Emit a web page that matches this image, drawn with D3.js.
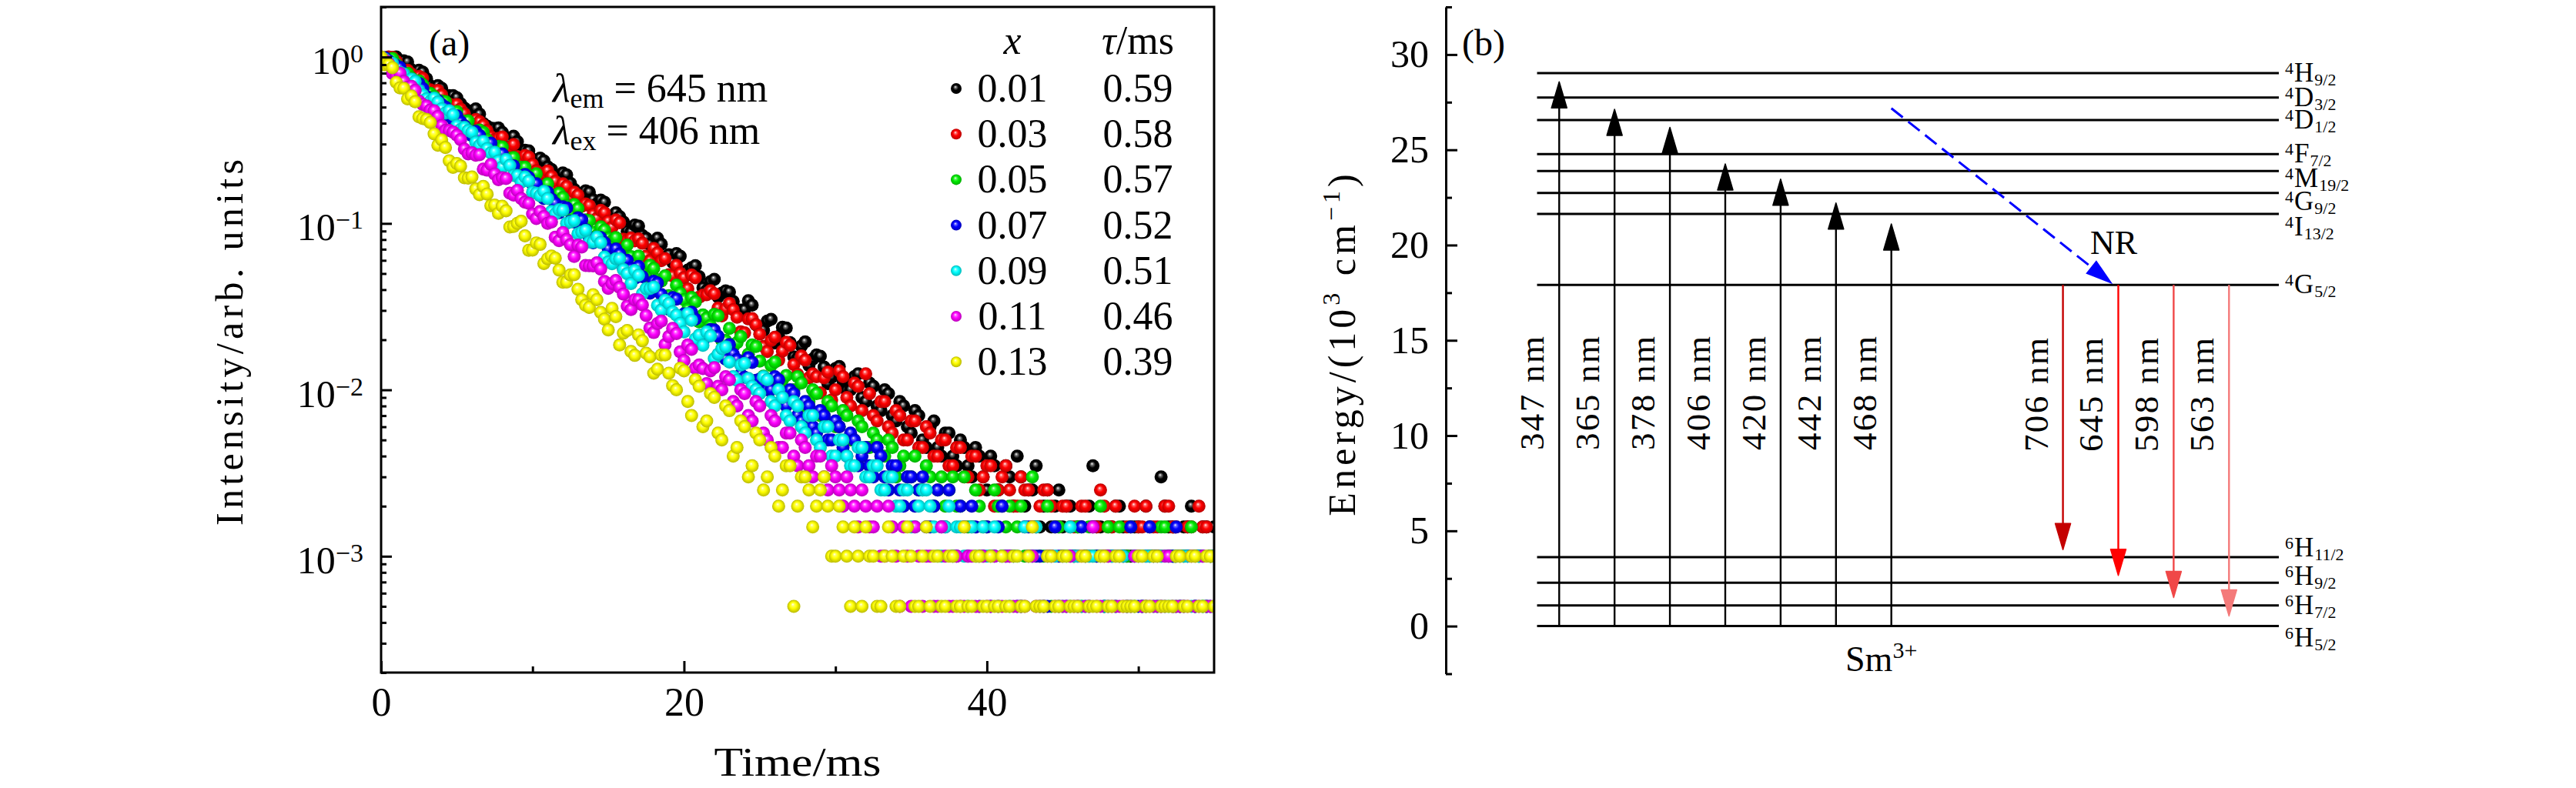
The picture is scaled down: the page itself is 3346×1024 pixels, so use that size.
<!DOCTYPE html>
<html>
<head>
<meta charset="utf-8">
<script src="https://cdn.jsdelivr.net/npm/d3@7"></script>
<style>
  body { margin: 0; background: #fff; }
  text { fill: #000; }
</style>
</head>
<body>
<script>
// ---------- panel (a): decay curves ----------
// readings on the 0.5 ms grid
const times = [0,0.5,1,1.5,2,2.5,3,3.5,4,4.5,5,5.5,6,6.5,7,7.5,8,8.5,9,9.5,10,10.5,11,11.5,12,12.5,13,13.5,14,14.5,15,15.5,16,16.5,17,17.5,18,18.5,19,19.5,20,20.5,21,21.5,22,22.5,23,23.5,24,24.5,25,25.5,26,26.5,27,27.5,28,28.5,29,29.5,30,30.5,31,31.5,32,32.5,33,33.5,34,34.5,35,35.5,36,36.5,37,37.5,38,38.5,39,39.5,40,40.5,41,41.5,42,42.5,43,43.5,44,44.5,45,45.5,46,46.5,47,47.5,48,48.5,49,49.5,50,50.5,51,51.5,52,52.5,53,53.5,54,54.5,55];

const decay001 = [null,null,1.00,0.948,0.839,0.834,0.741,0.653,0.649,0.587,0.570,0.493,0.468,0.454,0.384,0.372,0.353,0.313,0.310,0.275,0.243,0.247,0.219,0.194,0.201,0.174,0.151,0.157,0.139,0.138,0.111,0.116,0.102,0.0885,0.0964,0.0815,0.0689,0.075,0.0649,0.0659,0.0508,0.0541,0.0479,0.0395,0.0461,0.0381,0.0387,0.0292,0.0303,0.0323,0.0232,0.0259,0.0191,0.0238,0.0192,0.0155,0.0194,0.0153,0.0159,0.0109,0.0134,0.0113,0.0100,0.0125,0.0085,0.0105,0.0075,0.0095,0.0065,0.0080,0.0055,0.0070,0.0045,0.0065,0.0040,0.0055,0.0035,0.0045,0.0030,0.0040,0.0025,0.0035,0.0020,0.0030,0.0040,0.0020,0.0025,0.0015,0.0025,0.0020,0.0015,0.0020,0.0015,0.0010,0.0035,0.0015,0.0010,0.0020,0.0015,0.0010,0.0015,0.0020,0.0010,0.0030,0.0015,0.0010,0.0015,0.0020,0.0010,0.0015,0.0015];
const decay003 = [null,1.00,0.946,0.836,0.791,0.766,0.646,0.625,0.592,0.522,0.518,0.457,0.404,0.409,0.361,0.319,0.331,0.286,0.252,0.256,0.226,0.195,0.207,0.179,0.173,0.143,0.148,0.131,0.113,0.120,0.103,0.105,0.0805,0.0817,0.0809,0.0637,0.0708,0.0597,0.0492,0.056,0.0472,0.049,0.036,0.0373,0.0378,0.0278,0.0331,0.0273,0.022,0.0268,0.0216,0.017,0.0207,0.0171,0.0185,0.0124,0.0151,0.0125,0.0096,0.0128,0.010,0.012,0.008,0.0105,0.0125,0.007,0.0085,0.006,0.0075,0.005,0.0065,0.0045,0.006,0.004,0.005,0.0035,0.0045,0.003,0.004,0.0025,0.0035,0.002,0.003,0.0025,0.002,0.0025,0.0015,0.002,0.0025,0.0015,0.002,0.0015,0.001,0.002,0.0015,0.0025,0.0015,0.002,0.001,0.0015,0.0015,0.002,0.0015,0.001,0.002,0.0015,0.001,0.0015,0.002,0.0015,0.001];
const decay005 = [null,0.966,0.908,0.796,0.748,0.719,0.603,0.579,0.544,0.467,0.470,0.412,0.361,0.364,0.319,0.280,0.288,0.247,0.212,0.218,0.191,0.164,0.173,0.148,0.143,0.117,0.123,0.105,0.0883,0.0953,0.0817,0.0822,0.0628,0.0632,0.0637,0.0475,0.0537,0.045,0.0368,0.0426,0.0348,0.0359,0.0256,0.027,0.0284,0.0198,0.0234,0.0192,0.015,0.0186,0.0149,0.0116,0.0147,0.0115,0.0095,0.012,0.008,0.010,0.007,0.0085,0.006,0.0075,0.005,0.0065,0.0045,0.0055,0.004,0.005,0.003,0.004,0.003,0.0025,0.0035,0.002,0.003,0.0025,0.002,0.003,0.0015,0.002,0.0015,0.0025,0.001,0.002,0.0015,0.001,0.003,0.001,0.002,0.0015,0.001,0.0005,0.0015,0.001,0.001,0.002,0.0015,0.0005,0.001,0.0015,0.001,0.0005,0.001,0.0015,0.001,0.0005,0.001,0.0015,0.001,0.0005,0.001];
const decay007 = [null,0.948,0.887,0.774,0.724,0.693,0.578,0.553,0.518,0.442,0.443,0.386,0.337,0.338,0.295,0.258,0.262,0.225,0.192,0.197,0.172,0.147,0.154,0.132,0.126,0.103,0.108,0.0918,0.0766,0.0822,0.0701,0.0703,0.0535,0.0536,0.0552,0.0399,0.0449,0.0374,0.0305,0.0351,0.0286,0.0293,0.0208,0.0218,0.0229,0.0159,0.0187,0.0152,0.0119,0.0146,0.0116,0.010,0.012,0.0085,0.010,0.007,0.0085,0.006,0.0075,0.005,0.0065,0.0045,0.0055,0.0035,0.0045,0.003,0.004,0.0025,0.0035,0.002,0.003,0.0025,0.0015,0.002,0.0015,0.0025,0.001,0.0015,0.002,0.001,0.0015,0.001,0.002,0.001,0.0005,0.0015,0.001,0.001,0.0005,0.0015,0.001,0.001,0.0005,0.001,0.0015,0.001,0.0005,0.001,0.001,0.0015,0.0005,0.001,0.001,0.0005,0.001,0.0015,0.0005,0.001,0.001,0.0005,0.001];
const decay009 = [null,0.929,0.809,0.791,0.738,0.628,0.560,0.566,0.488,0.476,0.387,0.378,0.353,0.294,0.281,0.268,0.218,0.223,0.194,0.190,0.154,0.147,0.141,0.114,0.120,0.102,0.0867,0.0908,0.0773,0.0768,0.0586,0.0614,0.0528,0.0435,0.0488,0.0406,0.0415,0.0301,0.033,0.0281,0.0223,0.0262,0.0213,0.0223,0.0154,0.0177,0.0147,0.0114,0.0144,0.0105,0.0095,0.0115,0.008,0.009,0.0065,0.008,0.0055,0.007,0.0045,0.006,0.004,0.005,0.0035,0.0045,0.003,0.0035,0.0025,0.003,0.002,0.0025,0.0015,0.002,0.0025,0.0015,0.001,0.002,0.0015,0.001,0.0015,0.0005,0.001,0.0015,0.001,0.0005,0.001,0.0015,0.001,0.0005,0.001,0.001,0.0005,0.0015,0.001,0.0005,0.001,0.001,null,0.0005,0.001,0.0005,0.001,0.001,0.0005,0.001,0.0005,0.001,0.001,0.0005,0.001,0.0005,0.001];
const decay011 = [0.98,0.914,0.780,0.713,0.667,0.543,0.508,0.475,0.387,0.362,0.339,0.280,0.266,0.259,0.209,0.198,0.188,0.152,0.158,0.134,0.114,0.118,0.100,0.0827,0.0881,0.0745,0.0741,0.0559,0.0556,0.0532,0.0407,0.0454,0.0376,0.0304,0.0347,0.028,0.0221,0.0259,0.0209,0.0218,0.015,0.0175,0.0141,0.0109,0.0136,0.010,0.0115,0.008,0.0095,0.0065,0.008,0.005,0.0065,0.0045,0.0055,0.0035,0.0045,0.003,0.004,0.0025,0.003,0.002,0.0025,0.0015,0.002,0.0015,0.001,0.002,0.001,0.0015,0.0005,0.001,0.001,0.0005,0.0015,0.0005,0.001,0.0005,0.001,0.0005,0.0005,0.001,0.0005,0.001,0.0005,0.0005,0.001,0.0005,0.001,0.0005,0.0005,0.001,0.0005,0.0005,0.0015,0.0005,0.001,0.0005,0.0005,0.0005,0.001,0.0005,0.0005,0.0005,0.001,0.0005,0.0005,0.001,0.0005,0.0005,0.0005];
const decay013 = [1.00,0.899,0.705,0.649,0.583,0.437,0.421,0.345,0.318,0.238,0.229,0.188,0.190,0.149,0.150,0.129,0.127,0.0951,0.100,0.0843,0.0692,0.0748,0.0614,0.0619,0.0443,0.049,0.0402,0.0322,0.0373,0.0292,0.0229,0.0275,0.0219,0.017,0.0214,0.0166,0.0126,0.0162,0.0126,0.010,0.013,0.007,0.0105,0.0065,0.009,0.005,0.0075,0.0045,0.006,0.0035,0.005,0.003,0.004,0.0025,0.0035,0.002,0.003,0.0015,0.0025,0.002,0.001,0.0015,0.0005,0.001,0.0015,0.001,0.0005,0.0015,0.0005,0.001,0.001,0.0005,0.0015,0.001,0.0005,0.001,0.0005,0.0015,0.0005,0.001,0.0005,0.0005,0.001,0.0005,0.001,0.0005,0.0015,0.0005,0.001,0.0005,0.001,0.0005,0.0005,0.001,0.0005,0.001,0.0005,0.001,0.0005,0.0005,0.001,0.0005,0.001,0.0005,0.0005,0.001,0.0005,0.001,0.0005,0.001,0.0005];

// readings between the grid points (0.25, 0.75, ... ms)
const timesMid = [0.25,0.75,1.25,1.75,2.25,2.75,3.25,3.75,4.25,4.75,5.25,5.75,6.25,6.75,7.25,7.75,8.25,8.75,9.25,9.75,10.25,10.75,11.25,11.75,12.25,12.75,13.25,13.75,14.25,14.75,15.25,15.75,16.25,16.75,17.25,17.75,18.25,18.75,19.25,19.75,20.25,20.75,21.25,21.75,22.25,22.75,23.25,23.75,24.25,24.75,25.25,25.75,26.25,26.75,27.25,27.75,28.25,28.75,29.25,29.75,30.25,30.75,31.25,31.75,32.25,32.75,33.25,33.75,34.25,34.75,35.25,35.75,36.25,36.75,37.25,37.75,38.25,38.75,39.25,39.75,40.25,40.75,41.25,41.75,42.25,42.75,43.25,43.75,44.25,44.75,45.25,45.75,46.25,46.75,47.25,47.75,48.25,48.75,49.25,49.75,50.25,50.75,51.25,51.75,52.25,52.75,53.25,53.75,54.25,54.75];

const mid001 = [null,null,0.930,0.934,0.818,0.812,0.671,0.674,0.583,0.586,0.524,0.475,0.488,0.398,0.374,0.375,0.328,0.334,0.263,0.273,0.230,0.238,0.211,0.189,0.196,0.160,0.148,0.154,0.131,0.134,0.106,0.110,0.0898,0.0978,0.0846,0.0749,0.0815,0.0629,0.0583,0.0635,0.0524,0.0558,0.0411,0.0447,0.0361,0.0393,0.034,0.0301,0.0343,0.0246,0.0228,0.0265,0.0209,0.0235,0.0158,0.0183,0.014,0.0162,0.0137,0.0119,0.0138,0.0099,0.012,0.009,0.011,0.008,0.010,0.007,0.0085,0.006,0.0075,0.005,0.006,0.0045,0.0055,0.004,0.005,0.0035,0.0045,0.003,0.004,0.0025,0.0035,0.002,0.003,0.0025,0.0035,0.002,0.0015,0.0025,0.002,0.001,0.0015,0.002,0.0015,0.001,0.0015,0.002,0.001,0.0015,0.0005,0.0015,0.001,0.002,0.0015,0.001,0.0015,0.0005,0.0015,0.001];
const mid003 = [null,0.995,0.849,0.832,0.718,0.745,0.635,0.630,0.537,0.514,0.486,0.415,0.421,0.389,0.332,0.325,0.274,0.298,0.246,0.251,0.207,0.201,0.192,0.158,0.167,0.154,0.127,0.128,0.107,0.116,0.0948,0.101,0.0793,0.0785,0.076,0.0598,0.0665,0.0615,0.0484,0.0502,0.0405,0.0471,0.0371,0.0394,0.031,0.0307,0.0303,0.0223,0.0267,0.0247,0.0182,0.0198,0.0151,0.0193,0.0142,0.016,0.0118,0.012,0.0118,0.0087,0.013,0.009,0.011,0.0075,0.0095,0.0065,0.0085,0.0055,0.007,0.005,0.0065,0.0045,0.0055,0.004,0.005,0.0035,0.0045,0.003,0.004,0.003,0.0035,0.0025,0.0035,0.002,0.003,0.0025,0.0015,0.0025,0.002,0.0015,0.002,0.0015,0.002,0.001,0.0015,0.002,0.0015,0.001,0.0015,0.002,0.0015,0.001,0.0015,0.002,0.0015,0.001,0.0015,0.001,0.0015,0.001];
const mid005 = [0.99,0.981,0.803,0.799,0.685,0.682,0.605,0.543,0.540,0.453,0.416,0.414,0.359,0.353,0.289,0.290,0.242,0.249,0.218,0.194,0.199,0.161,0.147,0.152,0.128,0.130,0.102,0.104,0.0847,0.0913,0.0783,0.0687,0.0741,0.0566,0.0519,0.0561,0.0459,0.0484,0.0353,0.0381,0.0305,0.0338,0.0282,0.0243,0.0279,0.0198,0.0182,0.0209,0.0164,0.0182,0.0121,0.014,0.0106,0.0122,0.010,0.011,0.0085,0.0095,0.007,0.008,0.006,0.007,0.005,0.006,0.0045,0.005,0.004,0.0045,0.0035,0.003,0.004,0.0025,0.003,0.0025,0.002,0.003,0.002,0.0015,0.0025,0.0015,0.001,0.002,0.0015,0.001,0.002,0.001,0.0015,0.001,0.0005,0.0015,0.001,0.001,0.0005,0.0015,0.001,0.0005,0.001,0.0015,0.001,0.0005,0.001,0.001,0.0005,0.0015,0.001,0.0005,0.001,0.001,0.0005,0.001];
const mid007 = [0.99,0.885,0.867,0.731,0.692,0.647,0.546,0.547,0.500,0.422,0.408,0.348,0.357,0.301,0.304,0.245,0.236,0.222,0.182,0.189,0.173,0.141,0.140,0.116,0.124,0.102,0.105,0.0818,0.0802,0.0768,0.0597,0.0656,0.06,0.0467,0.0479,0.0381,0.0439,0.0341,0.0358,0.0271,0.0273,0.0266,0.0194,0.023,0.021,0.0153,0.0164,0.0124,0.0156,0.0114,0.011,0.010,0.0115,0.008,0.0095,0.0065,0.008,0.0055,0.007,0.005,0.006,0.004,0.005,0.004,0.0035,0.0045,0.003,0.0035,0.0025,0.003,0.002,0.003,0.0015,0.0025,0.0015,0.001,0.002,0.001,0.0015,0.001,0.0005,0.0015,0.001,0.001,0.0005,0.0015,0.001,0.0005,0.001,0.001,0.0005,0.001,0.0015,0.0005,0.001,0.0005,0.001,0.001,0.0005,0.001,0.0005,0.0015,0.001,0.0005,0.001,0.0005,0.001,0.0005,0.001,0.0005];
const mid009 = [0.97,0.918,0.809,0.721,0.713,0.593,0.541,0.535,0.460,0.450,0.366,0.361,0.308,0.311,0.265,0.237,0.242,0.194,0.177,0.180,0.152,0.156,0.118,0.121,0.100,0.104,0.0887,0.0773,0.0828,0.0628,0.0573,0.0614,0.0499,0.0522,0.0378,0.0406,0.0322,0.0345,0.0294,0.0251,0.0287,0.0202,0.0185,0.0211,0.0164,0.0181,0.012,0.0141,0.0117,0.010,0.012,0.0085,0.010,0.007,0.0085,0.006,0.007,0.005,0.006,0.004,0.005,0.004,0.0035,0.0045,0.003,0.0035,0.0025,0.003,0.002,0.0025,0.0015,0.0025,0.002,0.001,0.0015,0.001,0.0015,0.0005,0.001,0.0015,0.001,0.0005,0.001,0.001,0.0005,0.001,0.0015,0.0005,0.001,0.0005,0.001,0.001,0.0005,0.001,null,0.0005,0.001,0.001,0.0005,0.001,0.0005,0.001,0.0005,0.001,0.0005,0.001,0.001,0.0005,0.0005,0.001];
const mid011 = [0.956,0.797,0.799,0.658,0.630,0.519,0.480,0.439,0.362,0.354,0.319,0.262,0.257,0.212,0.226,0.183,0.186,0.148,0.141,0.132,0.107,0.110,0.102,0.0787,0.0801,0.0633,0.0722,0.0557,0.058,0.0448,0.0435,0.0413,0.0319,0.0348,0.0324,0.0235,0.025,0.0187,0.0234,0.0169,0.0186,0.0135,0.0134,0.013,0.0105,0.012,0.0085,0.010,0.007,0.0085,0.0055,0.007,0.0045,0.0055,0.004,0.005,0.0035,0.004,0.003,0.0035,0.0025,0.003,0.002,0.0025,0.0015,0.002,0.001,0.0015,0.0005,0.001,0.0015,0.0005,0.001,0.0005,0.001,0.0005,0.0005,0.001,0.0005,0.001,0.0005,0.0005,0.001,0.0005,0.0005,0.001,0.0005,0.0005,0.001,0.0005,0.0005,0.0005,0.001,0.0005,0.0005,0.001,0.0005,0.0005,0.0005,0.001,0.0005,0.0005,0.0005,0.001,0.0005,0.0005,0.0005,0.0005,0.001,0.0005];
const mid013 = [0.897,0.863,0.652,0.560,0.538,0.427,0.404,0.295,0.286,0.217,0.221,0.187,0.161,0.167,0.128,0.115,0.119,0.0959,0.103,0.0689,0.0764,0.0574,0.0637,0.0524,0.0444,0.0492,0.0348,0.0313,0.0348,0.0266,0.0309,0.0186,0.0227,0.0161,0.0197,0.0158,0.0133,0.0162,0.0106,0.0135,0.0085,0.0115,0.006,0.0095,0.0055,0.008,0.004,0.0065,0.003,0.0055,0.0025,0.0045,0.002,0.0035,0.0005,0.003,0.0025,0.002,0.003,0.001,0.002,0.001,0.0015,0.0005,0.001,0.0005,0.001,0.001,0.0005,0.0015,0.0005,0.001,0.0005,0.001,0.0005,0.001,0.0005,0.0005,0.001,0.0005,0.001,0.0005,0.0005,0.001,0.0005,0.001,0.0005,0.0005,0.001,0.0005,0.001,0.0005,0.001,0.0005,0.0005,0.001,0.0005,0.001,0.0005,0.0005,0.001,0.0005,0.001,0.0005,0.0005,0.001,0.0005,0.001,0.0005,0.001];

const seriesData = [decay001, decay003, decay005, decay007, decay009, decay011, decay013];
const seriesMid = [mid001, mid003, mid005, mid007, mid009, mid011, mid013];
const sampleX = ["0.01", "0.03", "0.05", "0.07", "0.09", "0.11", "0.13"];
const lifetimes = ["0.59", "0.58", "0.57", "0.52", "0.51", "0.46", "0.39"];
const xTicksA = [0, 20, 40];
const yDecades = [1, 0.1, 0.01, 0.001];
const yDecadeExp = ["0", "\u22121", "\u22122", "\u22123"];

// ---------- panel (b): Sm3+ energy levels (10^3 cm^-1) ----------
const levelNames = ["4H9/2", "4D3/2", "4D1/2", "4F7/2", "4M19/2", "4G9/2", "4I13/2", "4G5/2", "6H11/2", "6H9/2", "6H7/2", "6H5/2"];
const levelEnergy = [29.03, 27.74, 26.56, 24.78, 23.89, 22.74, 21.63, 17.91, 3.62, 2.28, 1.08, 0];
const excitation = ["347 nm", "365 nm", "378 nm", "406 nm", "420 nm", "442 nm", "468 nm"];
const excitationTop = [28.57, 27.13, 26.18, 24.26, 23.46, 22.21, 21.11];
const emission = ["706 nm", "645 nm", "598 nm", "563 nm"];
const emissionEnd = [4.01, 2.66, 1.50, 0.53];
const emissionStart = 17.91;
const nrFrom = 27.18, nrTo = 17.95;
const yTicksB = [0, 5, 10, 15, 20, 25, 30];

// ---------- drawing ----------
const FONT = "'Liberation Serif', 'DejaVu Serif', serif";
const colors = ["#000000", "#ff0000", "#00ee00", "#0000ff", "#00ffff", "#ff00ff", "#ffff00"];
const emisColors = ["#c40000", "#ff0000", "#f04848", "#f47a7a"];

const svg = d3.select("body").append("svg")
    .attr("width", 3346)
    .attr("height", 1024)
    .style("display", "block")
    .attr("font-family", FONT);

svg.append("rect").attr("width", 3346).attr("height", 1024).attr("fill", "#fff");

const defs = svg.append("defs");
colors.forEach((c, i) => {
    const g = defs.append("radialGradient")
        .attr("id", "ball" + i)
        .attr("cx", "50%").attr("cy", "50%").attr("r", "50%")
        .attr("fx", "42%").attr("fy", "34%");
    g.append("stop").attr("offset", "0%").attr("stop-color", "#ffffff");
    g.append("stop").attr("offset", "20%").attr("stop-color", d3.interpolateRgb(c, "#fff")(i == 0 ? 0.45 : 0.4));
    g.append("stop").attr("offset", "50%").attr("stop-color", c);
    g.append("stop").attr("offset", "100%").attr("stop-color", i == 0 ? "#000" : d3.color(c).darker(0.9));
});

// panel (a)
const xA = d3.scaleLinear().domain([0, 55]).range([495, 1577]);
const yA = d3.scaleLog().domain([2e-4, 2]).range([874, 9]);

defs.append("clipPath").attr("id", "clipA")
    .append("rect").attr("x", 495).attr("y", 9).attr("width", 1082).attr("height", 865);

const pts = svg.append("g").attr("clip-path", "url(#clipA)");
seriesData.forEach((vals, i) => {
    const data = times.map((t, k) => [t, vals[k]])
        .concat(timesMid.map((t, k) => [t, seriesMid[i][k]]))
        .filter(d => d[1] != null)
        .sort((a, b) => a[0] - b[0]);
    pts.append("g").selectAll("circle")
        .data(data)
        .join("circle")
        .attr("cx", d => xA(d[0]))
        .attr("cy", d => yA(d[1]))
        .attr("r", 8.5)
        .attr("fill", `url(#ball${i})`);
});

// y ticks (inward)
const minorY = yA.ticks().filter(v => !yDecades.some(d => Math.abs(d - v) < 1e-12));
svg.append("g").attr("transform", "translate(495,0)")
    .call(d3.axisLeft(yA).tickValues(yDecades).tickSize(-14).tickSizeOuter(0).tickFormat(""))
    .call(g => g.select(".domain").remove())
    .call(g => g.selectAll("line").attr("stroke-width", 3));
svg.append("g").attr("transform", "translate(495,0)")
    .call(d3.axisLeft(yA).tickValues(minorY).tickSize(-7).tickSizeOuter(0).tickFormat(""))
    .call(g => g.select(".domain").remove())
    .call(g => g.selectAll("line").attr("stroke-width", 3));

yDecades.forEach((v, i) => {
    const t = svg.append("text")
        .attr("x", 472).attr("y", yA(v) + 22)
        .attr("text-anchor", "end");
    t.append("tspan").attr("font-size", 50).text("10");
    t.append("tspan").attr("font-size", 34).attr("dy", -15).text(yDecadeExp[i]);
});

// x ticks (inward)
svg.append("g").attr("transform", "translate(0,874)")
    .call(d3.axisBottom(xA).tickValues(xTicksA).tickSize(-15).tickSizeOuter(0).tickPadding(19).tickFormat(d3.format("d")))
    .call(g => g.select(".domain").remove())
    .call(g => g.selectAll("line").attr("stroke-width", 3))
    .call(g => g.selectAll("text").attr("font-size", 52).attr("font-family", FONT).attr("fill", "#000"));
svg.append("g").attr("transform", "translate(0,874)")
    .call(d3.axisBottom(xA).tickValues([10, 30, 50]).tickSize(-8).tickSizeOuter(0).tickFormat(""))
    .call(g => g.select(".domain").remove())
    .call(g => g.selectAll("line").attr("stroke-width", 3));

svg.append("rect")
    .attr("x", 495).attr("y", 9).attr("width", 1082).attr("height", 865)
    .attr("fill", "none").attr("stroke", "#000").attr("stroke-width", 3);

svg.append("text").attr("x", 1036).attr("y", 1008)
    .attr("text-anchor", "middle").attr("font-size", 52)
    .attr("textLength", 217).attr("lengthAdjust", "spacingAndGlyphs")
    .text("Time/ms");

svg.append("text")
    .attr("transform", "translate(315,445) rotate(-90)")
    .attr("text-anchor", "middle").attr("font-size", 50)
    .attr("textLength", 476).attr("lengthAdjust", "spacing")
    .text("Intensity/arb. units");

svg.append("text").attr("x", 557).attr("y", 72).attr("font-size", 48).text("(a)");

// lambda annotations
[["em", "645"], ["ex", "406"]].forEach((d, i) => {
    const t = svg.append("text").attr("x", 718).attr("y", 132 + i * 55).attr("font-size", 52);
    t.append("tspan").attr("font-style", "italic").text("\u03bb");
    t.append("tspan").attr("font-size", 36).attr("dy", 8).text(d[0]);
    t.append("tspan").attr("dy", -8).text(" = " + d[1] + " nm");
});

// legend
const legY = i => 115 + i * 59.2;
svg.append("text").attr("x", 1315).attr("y", 70).attr("text-anchor", "middle")
    .attr("font-size", 52).attr("font-style", "italic").text("x");
const th = svg.append("text").attr("x", 1478).attr("y", 70).attr("text-anchor", "middle").attr("font-size", 52);
th.append("tspan").attr("font-style", "italic").text("\u03c4");
th.append("tspan").text("/ms");

sampleX.forEach((s, i) => {
    svg.append("circle").attr("cx", 1242).attr("cy", legY(i)).attr("r", 7).attr("fill", `url(#ball${i})`);
    svg.append("text").attr("x", 1315).attr("y", legY(i) + 17).attr("text-anchor", "middle")
        .attr("font-size", 52).text(s);
    svg.append("text").attr("x", 1478).attr("y", legY(i) + 17).attr("text-anchor", "middle")
        .attr("font-size", 52).text(lifetimes[i]);
});

// panel (b)
const xB = d3.scaleLinear().domain([-0.4, 13]).range([1996.5, 2960]);
const yB = d3.scaleLinear().domain([-2.5, 32.5]).range([875.5, 9]);
const upSlots = [0, 1, 2, 3, 4, 5, 6];
const downSlots = [9.1, 10.1, 11.1, 12.1];
const labelShift = [0, 0, 0, 0, 10, 11, 17, 0, -12, -8, 0, 15];

svg.append("g").attr("transform", "translate(1878,0)")
    .call(d3.axisLeft(yB).tickValues(yTicksB).tickSize(-15).tickSizeOuter(0).tickPadding(22).tickFormat(d3.format("d")))
    .call(g => g.select(".domain").attr("stroke-width", 3))
    .call(g => g.selectAll("line").attr("stroke-width", 3))
    .call(g => g.selectAll("text").attr("font-size", 50).attr("font-family", FONT).attr("fill", "#000"));
svg.append("g").attr("transform", "translate(1878,0)")
    .call(d3.axisLeft(yB).tickValues([-2.5, 2.5, 7.5, 12.5, 17.5, 22.5, 27.5, 32.5]).tickSize(-8).tickSizeOuter(0).tickFormat(""))
    .call(g => g.select(".domain").remove())
    .call(g => g.selectAll("line").attr("stroke-width", 3));

svg.append("text").attr("x", 1899).attr("y", 72).attr("font-size", 48).text("(b)");

const et = svg.append("text")
    .attr("transform", "translate(1760,446) rotate(-90)")
    .attr("text-anchor", "middle").attr("font-size", 50).attr("letter-spacing", 5);
et.append("tspan").text("Energy/(10");
et.append("tspan").attr("font-size", 32).attr("dy", -20).text("3");
et.append("tspan").attr("dy", 20).text(" cm");
et.append("tspan").attr("font-size", 32).attr("dy", -20).text("\u22121");
et.append("tspan").attr("dy", 20).text(")");

// levels
svg.append("g").selectAll("line")
    .data(levelEnergy)
    .join("line")
    .attr("x1", xB(-0.4)).attr("x2", xB(13))
    .attr("y1", d => yB(d)).attr("y2", d => yB(d))
    .attr("stroke", "#000").attr("stroke-width", 3);

// term symbols: superscript, letter and subscript as separate pieces
levelNames.forEach((name, i) => {
    const m = name.match(/^(\d)([A-Z])(.+)$/);
    const base = yB(levelEnergy[i]) + labelShift[i] + 11;
    svg.append("text").attr("x", 2968).attr("y", base - 10).attr("font-size", 22).text(m[1]);
    const letter = svg.append("text").attr("x", 2980).attr("y", base).attr("font-size", 35).text(m[2]);
    const wLetter = letter.node().getComputedTextLength();
    svg.append("text").attr("x", 2981 + wLetter).attr("y", base + 5).attr("font-size", 22).text(m[3]);
});

function vArrow(x, yFrom, yTo, color, w) {
    const dir = yTo < yFrom ? -1 : 1;
    const headL = 34, headW = 10;
    svg.append("line")
        .attr("x1", x).attr("x2", x)
        .attr("y1", yFrom).attr("y2", yTo - dir * (headL - 4))
        .attr("stroke", color).attr("stroke-width", w);
    svg.append("path")
        .attr("d", `M${x},${yTo}L${x - headW},${yTo - dir * headL}L${x + headW},${yTo - dir * headL}Z`)
        .attr("fill", color).attr("stroke", color).attr("stroke-width", 1.5).attr("stroke-linejoin", "round");
}

excitation.forEach((lab, i) => {
    const x = xB(upSlots[i]);
    vArrow(x, yB(0), yB(excitationTop[i]), "#000", 2.4);
    svg.append("text")
        .attr("transform", `translate(${x - 20},585) rotate(-90)`)
        .attr("font-size", 45).attr("textLength", 148).attr("lengthAdjust", "spacing")
        .text(lab);
});

emission.forEach((lab, i) => {
    const x = xB(downSlots[i]);
    vArrow(x, yB(emissionStart), yB(emissionEnd[i]), emisColors[i], 2.4);
    svg.append("text")
        .attr("transform", `translate(${x - 20},587) rotate(-90)`)
        .attr("font-size", 45).attr("textLength", 148).attr("lengthAdjust", "spacing")
        .text(lab);
});

// non-radiative relaxation
{
    const x0 = xB(6), y0 = yB(nrFrom), x1 = xB(10), y1 = yB(nrTo);
    const len = Math.hypot(x1 - x0, y1 - y0);
    const ux = (x1 - x0) / len, uy = (y1 - y0) / len;
    const headL = 36, headW = 11;
    svg.append("line")
        .attr("x1", x0).attr("y1", y0)
        .attr("x2", x1 - ux * (headL - 4)).attr("y2", y1 - uy * (headL - 4))
        .attr("stroke", "#0000ff").attr("stroke-width", 3).attr("stroke-dasharray", "19,9");
    const bx = x1 - ux * headL, by = y1 - uy * headL;
    svg.append("path")
        .attr("d", `M${x1},${y1}L${bx - uy * headW},${by + ux * headW}L${bx + uy * headW},${by - ux * headW}Z`)
        .attr("fill", "#0000ff");
}
svg.append("text").attr("x", 2715).attr("y", 330).attr("font-size", 44).text("NR");

const sm = svg.append("text").attr("x", 2397).attr("y", 872).attr("font-size", 46);
sm.append("tspan").text("Sm");
sm.append("tspan").attr("font-size", 30).attr("dy", -17).text("3+");
</script>
</body>
</html>
